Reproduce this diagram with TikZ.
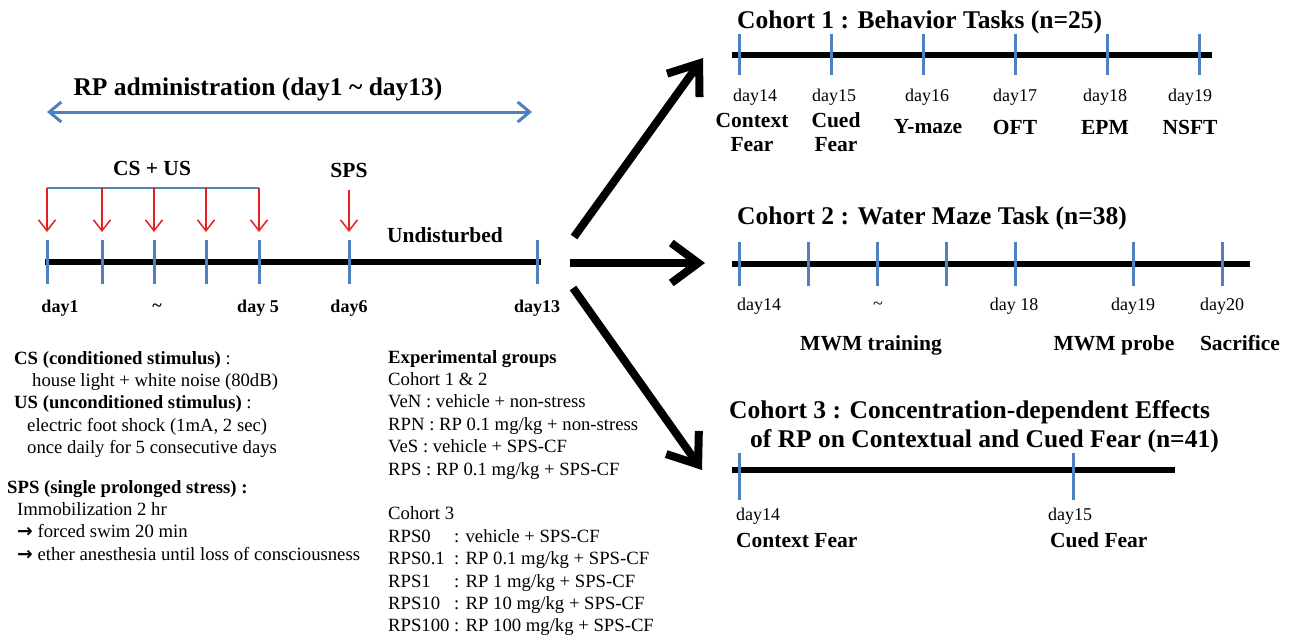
\documentclass[tikz,border=0pt]{standalone}
\usepackage{fontspec}
\setmainfont{Liberation Serif}
\newfontfamily\arrowfont{DejaVu Sans}
\usepackage{tikz}
\usetikzlibrary{arrows.meta, positioning}

\definecolor{tlblue}{RGB}{79,129,189}
\definecolor{shockred}{RGB}{228,32,32}
\newcommand{\thento}{{\arrowfont\bfseries →}}

\tikzset{
  big/.style={font=\fontsize{25.5}{29}\selectfont\bfseries, inner sep=0pt},
  task/.style={font=\fontsize{21.5}{24}\selectfont\bfseries, inner sep=0pt},
  txt/.style={font=\fontsize{18.7}{22.4}\selectfont, inner sep=0pt, align=left},
  daybf/.style={font=\fontsize{18}{20}\selectfont\bfseries, inner sep=0pt},
  day/.style={font=\fontsize{18}{20}\selectfont, inner sep=0pt},
  axis/.style={line width=6.5pt},
  tick/.style={tlblue, line width=3pt},
  shock/.style={shockred, line width=1.5pt, -{Straight Barb[length=11pt,width=17pt]}},
  flow/.style={line width=8pt, -{Straight Barb[length=27pt,width=40pt]}},
}

\begin{document}
\begin{tikzpicture}[x=1pt, y=-1pt]
    \useasboundingbox (0,0) rectangle (1293,637);

    % RP administration
    \node[big] (rp) at (258,89) {RP administration (day1 \textasciitilde\ day13)};
    \coordinate (ra) at (47,112);
    \coordinate (rb) at (532,112);
    \draw[tlblue, line width=3pt, {Straight Barb[length=12pt,width=20pt]}-{Straight Barb[length=12pt,width=20pt]}] (ra) -- (rb);

    % Truc thoi gian day1 - day13
    \node[task] (csus) at (152,168) {CS + US};
    \node[task] (sps) at (349,170) {SPS};
    \node[task] (und) at (445,235) {Undisturbed};
    \draw[tlblue, line width=1.5pt] (47,188) -- (259,188);
    \foreach \x in {47,102,154,206,259}
        \draw[shock] (\x,188) -- (\x,232);
    \draw[shock] (349,190) -- (349,232);
    \coordinate (l0) at (45,262);
    \coordinate (l1) at (541,262);
    \draw[axis] (l0) -- (l1);
    \foreach \x in {47,102,154,206,259,349,537}
        \draw[tick] (\x,240) -- (\x,284);
    \foreach \x/\t [count=\i] in {60/day1, 157/\textasciitilde, 258/day 5, 349/day6, 537/day13}
        \node[daybf] (ld\i) at (\x,308) {\t};

    % Chu thich
    \node[txt, anchor=north west] (csdef) at (14,351) {%
        \textbf{CS (conditioned stimulus)} :\\
        \hspace*{18pt}house light + white noise (80dB)\\
        \textbf{US (unconditioned stimulus)} :\\
        \hspace*{13pt}electric foot shock (1mA, 2 sec)\\
        \hspace*{13pt}once daily for 5 consecutive days};
    \node[txt, anchor=north west] (spsdef) at (7,480) {%
        \textbf{SPS (single prolonged stress) :}\\
        \hspace*{10pt}Immobilization 2 hr\\
        \hspace*{10pt}\thento\ forced swim 20 min\\
        \hspace*{10pt}\thento\ ether anesthesia until loss of consciousness};
    \node[txt, anchor=north west] (grp) at (388,350) {%
        \textbf{Experimental groups}\\
        Cohort 1 \& 2\\
        VeN : vehicle + non-stress\\
        RPN : RP 0.1 mg/kg + non-stress\\
        VeS : vehicle + SPS-CF\\
        RPS : RP 0.1 mg/kg + SPS-CF\\[22.4pt]
        Cohort 3\\
        \makebox[66pt][l]{RPS0}: vehicle + SPS-CF\\
        \makebox[66pt][l]{RPS0.1}: RP 0.1 mg/kg + SPS-CF\\
        \makebox[66pt][l]{RPS1}: RP 1 mg/kg + SPS-CF\\
        \makebox[66pt][l]{RPS10}: RP 10 mg/kg + SPS-CF\\
        \makebox[66pt][l]{RPS100}: RP 100 mg/kg + SPS-CF};

    % Mui ten sang 3 cohort
    \coordinate (s1) at (574,237);
    \coordinate (t1) at (703,58);
    \coordinate (s2) at (570,263);
    \coordinate (t2) at (705,263);
    \coordinate (s3) at (573,288);
    \coordinate (t3) at (702,470);
    \draw[flow] (s1) -- (t1);
    \draw[flow] (s2) -- (t2);
    \draw[flow] (s3) -- (t3);

    % Cohort 1
    \node[big, anchor=west] (c1) at (737,22) {Cohort 1 : Behavior Tasks (n=25)};
    \coordinate (a0) at (732,55);
    \coordinate (a1) at (1212,55);
    \draw[axis] (a0) -- (a1);
    \foreach \x in {739,831,923,1015,1107,1199}
        \draw[tick] (\x,34) -- (\x,75);
    \foreach \x/\d in {755/14,834/15,927/16,1015/17,1105/18,1190/19}
        \node[day] (e\d) at (\x,97) {day\d};
    \node[task, align=center] (t14) at (752,132) {Context\\Fear};
    \node[task, align=center] (t15) at (836,132) {Cued\\Fear};
    \node[task] (t16) at (928,127) {Y-maze};
    \node[task] (t17) at (1015,127) {OFT};
    \node[task] (t18) at (1105,127) {EPM};
    \node[task] (t19) at (1190,127) {NSFT};

    % Cohort 2
    \node[big, anchor=west] (c2) at (737,218) {Cohort 2 : Water Maze Task (n=38)};
    \coordinate (b0) at (732,264);
    \coordinate (b1) at (1250,264);
    \draw[axis] (b0) -- (b1);
    \foreach \x in {739,808,877,946,1015,1133,1222}
        \draw[tick] (\x,242) -- (\x,286);
    \foreach \x/\t [count=\i] in {759/day14, 878/\textasciitilde, 1014/day 18, 1133/day19, 1222/day20}
        \node[day] (f\i) at (\x,306) {\t};
    \node[task] (mwt) at (871,345) {MWM training};
    \node[task] (mwp) at (1114,345) {MWM probe};
    \node[task] (sac) at (1240,343) {Sacrifice};

    % Cohort 3
    \node[big, anchor=west, align=left] (c3) at (729,427) {Cohort 3 : Concentration-dependent Effects\\
        \hspace*{21pt}of RP on Contextual and Cued Fear (n=41)};
    \coordinate (g0) at (732,470);
    \coordinate (g1) at (1175,470);
    \draw[axis] (g0) -- (g1);
    \foreach \x in {739,1073}
        \draw[tick] (\x,453) -- (\x,500);
    \node[day, anchor=west] (h14) at (736,516) {day14};
    \node[day, anchor=west] (h15) at (1048,516) {day15};
    \node[task, anchor=west] (cxf) at (736,540) {Context Fear};
    \node[task, anchor=west] (cuf) at (1050,540) {Cued Fear};
\end{tikzpicture}
\end{document}
